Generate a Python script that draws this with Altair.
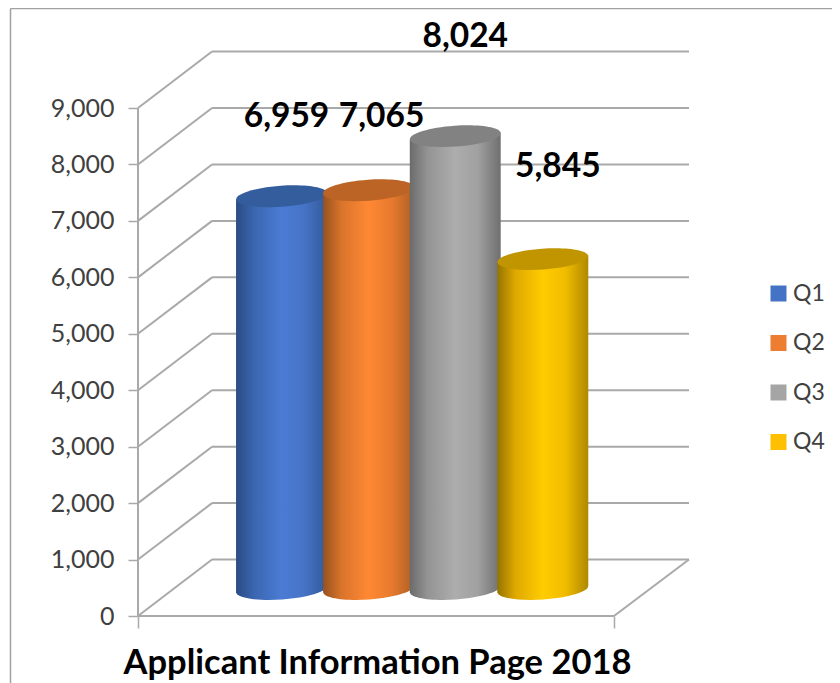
import altair as alt
import pandas as pd

quarters = ["Q1", "Q2", "Q3", "Q4"]
values = [6959, 7065, 8024, 5845]
ticks = [0, 1000, 2000, 3000, 4000, 5000, 6000, 7000, 8000, 9000]
title_text = "Applicant Information Page 2018"

legend_colors = ["#4472c4", "#ed7d31", "#a5a5a5", "#ffc000"]
side_stops = [
    ["#2b4c84", "#3b66b0", "#4a7cd4", "#4673c6", "#33599a"],
    ["#96521f", "#d9742c", "#ff8833", "#e87a2e", "#ad5f24"],
    ["#6b6b6b", "#949494", "#adadad", "#a0a0a0", "#6f6f6f"],
    ["#967400", "#dfa900", "#ffcc00", "#f0bc00", "#ae8800"],
]
top_colors = ["#345d9d", "#bb6425", "#828282", "#c09500"]

# Layout of the mock 3D projection
FONT = "Lato"
X_MAX, Y_MAX = 115.76, 10772
FRONT_W, DEPTH_X, DEPTH_Y = 100, 15.55, 1000
BASE, TILT = 478, 62
BAR_W = 19.1
bar_left = [20.6, 38.9, 57.1, 75.5]
label_dx = [5, 13, 10, 15]
label_dy = [-79, -73, -99, -92]
ELLIPSE = "M-.9976,.0698 A1,.23,-4,1,1,.9976,-.0698 A1,.23,-4,1,1,-.9976,.0698 Z"
ELLIPSE_SIZE = 91 ** 2
GRID = "#a9a9a9"

xs = alt.Scale(domain=[0, X_MAX], nice=False, zero=False)
ys = alt.Scale(domain=[0, Y_MAX], nice=False, zero=False)

x_axis = alt.Axis(
    values=[0, FRONT_W], labels=False, grid=False, domain=False,
    tickSize=12, tickColor=GRID, tickWidth=1.5, title=title_text,
    titleFont=FONT, titleFontSize=34.5, titleFontWeight="bold",
    titleColor="#000000", titleX=239, titleY=47, titleBaseline="middle",
    titleAlign="center",
)
y_axis = alt.Axis(
    values=ticks, format=",d", grid=False, domain=False, title=None,
    tickSize=10, tickColor=GRID, tickWidth=1.5, labelPadding=14,
    labelFont=FONT, labelFontSize=25, labelColor="#404040",
)


def X(field="x"):
    return alt.X(f"{field}:Q", scale=xs, axis=x_axis)


def Y(field="y"):
    return alt.Y(f"{field}:Q", scale=ys, axis=y_axis)


def gradient(stops):
    offs = [0, 0.2, 0.5, 0.75, 1]
    return alt.LinearGradient(
        gradient="linear", x1=0, x2=1, y1=0, y2=0,
        stops=[alt.GradientStop(color=c, offset=o) for c, o in zip(stops, offs)],
    )


# Walls and floor
rows = []
for t in ticks:
    rows.append(dict(x=0, x2=DEPTH_X, y=t, y2=t + DEPTH_Y))
    rows.append(dict(x=DEPTH_X, x2=X_MAX, y=t + DEPTH_Y, y2=t + DEPTH_Y))
rows.append(dict(x=0, x2=FRONT_W, y=0, y2=0))
rows.append(dict(x=0, x2=0, y=0, y2=ticks[-1]))
rows.append(dict(x=FRONT_W, x2=X_MAX, y=0, y2=DEPTH_Y))

grid = alt.Chart(pd.DataFrame(rows)).mark_rule(color=GRID, strokeWidth=2).encode(
    x=X(), x2="x2:Q", y=Y(), y2="y2:Q",
)

layers = [grid]

# Frame of the picture
layers.append(alt.Chart(pd.DataFrame({"a": [0]})).mark_rule(color="#a0a0a0", strokeWidth=1.5).encode(
    x=alt.value(-127.5), y=alt.value(0.5), y2=alt.value(675)))
layers.append(alt.Chart(pd.DataFrame({"a": [0]})).mark_rule(color="#a0a0a0", strokeWidth=1.5).encode(
    x=alt.value(-127.5), x2=alt.value(702), y=alt.value(0.5)))

# Cylinders
for q, v, left, stops, top in zip(quarters, values, bar_left, side_stops, top_colors):
    centre = left + BAR_W / 2
    body = pd.DataFrame({
        "x": [left, left + BAR_W],
        "y": [BASE + v - TILT, BASE + v + TILT],
        "y2": [BASE - TILT, BASE + TILT],
    })
    grad = gradient(stops)
    layers.append(
        alt.Chart(pd.DataFrame({"x": [centre], "y": [BASE]}))
        .mark_point(shape=ELLIPSE, size=ELLIPSE_SIZE, filled=True, fill=grad, opacity=1, strokeWidth=0)
        .encode(x=X(), y=Y())
    )
    layers.append(
        alt.Chart(body).mark_area(fill=grad, opacity=1, strokeWidth=0)
        .encode(x=X(), y=Y(), y2="y2:Q")
    )
    layers.append(
        alt.Chart(pd.DataFrame({"x": [centre], "y": [BASE + v]}))
        .mark_point(shape=ELLIPSE, size=ELLIPSE_SIZE, filled=True, fill=top, opacity=1, strokeWidth=0)
        .encode(x=X(), y=Y())
    )

# Data labels
for v, left, dx, dy in zip(values, bar_left, label_dx, label_dy):
    layers.append(
        alt.Chart(pd.DataFrame({"x": [left + BAR_W / 2], "y": [BASE + v], "t": [f"{v:,}"]}))
        .mark_text(font=FONT, fontSize=33.5, fontWeight="bold", color="#000000", dx=dx, dy=dy, baseline="middle")
        .encode(x=X(), y=Y(), text="t:N")
    )

# Legend carrier
layers.append(
    alt.Chart(pd.DataFrame({"q": quarters, "x": [0] * 4, "y": [0] * 4}))
    .mark_square(size=0, opacity=0)
    .encode(
        x=X(), y=Y(),
        color=alt.Color(
            "q:N",
            scale=alt.Scale(domain=quarters, range=legend_colors),
            legend=alt.Legend(
                title=None, orient="none", legendX=629, legendY=274, padding=0,
                symbolType="square", symbolSize=256, symbolOpacity=1, symbolStrokeWidth=0,
                labelFont=FONT, labelFontSize=23, labelColor="#404040", labelOffset=3,
                rowPadding=25.5, columnPadding=0,
            ),
        ),
    )
)

chart = (
    alt.layer(*layers)
    .resolve_scale(x="shared", y="shared")
    .properties(
        width=551, height=608,
        autosize=alt.AutoSizeParams(type="none"),
        padding={"left": 130, "right": 143, "top": 0, "bottom": 67},
    )
    .configure_view(stroke=None)
)

chart.save("out.html", embed_options={"renderer": "svg", "actions": False})
